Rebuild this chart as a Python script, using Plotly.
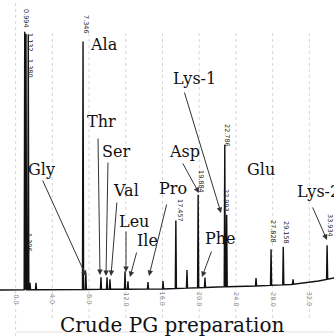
import numpy as np
import plotly.graph_objects as go

# ---- data ----
peak_times = [0.994, 1.132, 1.380, 1.57, 2.22, 7.346, 7.65, 9.30, 9.96, 10.28,
              11.92, 12.24, 14.42, 16.06, 17.457, 18.67, 19.884, 20.63,
              22.786, 22.993, 26.19, 27.828, 29.158, 30.22, 33.934]
peak_heights = [258, 256, 255, 7, 7, 248, 17, 12, 12, 10,
                18, 8, 7, 8, 68, 18, 93, 10,
                142, 72, 8, 36, 38, 5, 34]

baseline_t = [-1.7, 16.0, 22.0, 26.0, 30.0, 33.0, 34.7]
baseline_s = [0.0, 1.0, 3.0, 4.0, 5.5, 9.0, 12.0]

tick_times = [0, 4, 8, 12, 16, 20, 24, 28, 32]
tick_text = ["0.0", "4.0", "8.0", "12.0", "16.0", "20.0", "24.0", "28.0", "32.0"]

# retention-time labels: text, pixel centre (layout)
rt_labels = [("0.994", 26, 18), ("1.132", 30, 42), ("1.380", 30, 68),
             ("1.306", 29, 242), ("7.346", 86, 24), ("17.457", 180, 210),
             ("19.884", 201, 181), ("22.786", 227, 135), ("22.993", 226, 200),
             ("27.828", 273, 231), ("29.158", 286, 232), ("33.934", 330, 225)]

# amino-acid labels: name, text centre px, arrow tail px, arrow tip px (None = no arrow)
aa_labels = [
    ("Ala", 104, 44, None, None),
    ("Gly", 41, 169, (42, 179), (86, 276)),
    ("Thr", 101, 121, (98, 137), (100, 275)),
    ("Ser", 116, 151, (108, 161), (106, 276)),
    ("Val", 126, 190, (117, 201), (111, 276)),
    ("Leu", 134, 221, (126, 230), (126, 272)),
    ("Ile", 147, 240, (137, 251), (130, 277)),
    ("Pro", 173, 188, (167, 203), (149, 276)),
    ("Asp", 184, 151, (182, 162), (199, 193)),
    ("Lys-1", 194, 78, (184, 91), (221, 213)),
    ("Phe", 220, 238, (212, 250), (202, 277)),
    ("Glu", 261, 169, None, None),
]
lys2 = ("Lys-2", 295, 191, (312, 206), (327, 240))

# ---- pixel <-> data helpers (layout only) ----
X0, SCALE = 15.6, 9.18
Y0 = 290.0
W, H = 334, 336

def tx(px):
    return (px - X0) / SCALE

def sy(py):
    return Y0 - py

# ---- build trace from peaks ----
w = 0.06
order = np.argsort(peak_times)
xs, ys = [baseline_t[0]], [baseline_s[0]]
for i in order:
    t, h = peak_times[i], peak_heights[i]
    for tt, extra in ((t - w, 0), (t, h), (t + w, 0)):
        xs.append(tt)
        ys.append(float(np.interp(tt, baseline_t, baseline_s)) + extra)
pts = sorted(list(zip(xs, ys)) + [(bt, bs) for bt, bs in zip(baseline_t, baseline_s)
                                   if all(abs(bt - p) > 3 * w for p in peak_times)])
xs, ys = zip(*pts)

fig = go.Figure()
fig.add_trace(go.Scatter(x=xs, y=ys, mode="lines",
                         line=dict(color="#111111", width=1.4),
                         hoverinfo="skip", showlegend=False))

shapes = []
for t in tick_times:
    top = sy(0) if t == 0 else sy(30)
    bot = sy(336) if t == 0 else sy(318)
    shapes.append(dict(type="line", xref="x", yref="y", x0=t, x1=t, y0=bot, y1=top,
                       line=dict(color="#d6d6d6", width=1, dash="dot"), layer="below"))
shapes.append(dict(type="line", xref="x", yref="y", x0=tx(16), x1=tx(334),
                   y0=sy(332), y1=sy(332), line=dict(color="#e2e2e2", width=1)))

ann = []
for t, lab in zip(tick_times, tick_text):
    ann.append(dict(x=t, y=sy(299), xref="x", yref="y", text=lab, showarrow=False,
                    textangle=90, font=dict(family="DejaVu Sans", size=6.5, color="#888888")))
for lab, px, py in rt_labels:
    ann.append(dict(x=tx(px), y=sy(py), xref="x", yref="y", text=lab, showarrow=False,
                    textangle=90, font=dict(family="DejaVu Sans", size=6.5, color="#222222")))

serif = dict(family="DejaVu Serif", size=16, color="#111111")
for name, cx, cy, tail, tip in aa_labels + [lys2]:
    anchor = "left" if name == "Lys-2" else "center"
    ann.append(dict(x=tx(cx), y=sy(cy), xref="x", yref="y", text=name, showarrow=False,
                    xanchor=anchor, font=serif))
    if tip is not None:
        ann.append(dict(x=tx(tip[0]), y=sy(tip[1]), ax=tx(tail[0]), ay=sy(tail[1]),
                        xref="x", yref="y", axref="x", ayref="y", text="",
                        showarrow=True, arrowhead=2, arrowsize=1.1, arrowwidth=1,
                        arrowcolor="#333333"))

ann.append(dict(x=tx(172), y=sy(325), xref="x", yref="y", text="Crude PG preparation",
                showarrow=False, font=dict(family="DejaVu Serif", size=20, color="#111111")))

fig.update_layout(
    width=W, height=H, margin=dict(l=0, r=0, t=0, b=0),
    paper_bgcolor="white", plot_bgcolor="white",
    xaxis=dict(range=[tx(0), tx(W)], visible=False, fixedrange=True),
    yaxis=dict(range=[sy(H), sy(0)], visible=False, fixedrange=True),
    shapes=shapes, annotations=ann, showlegend=False,
)
fig.write_html("out.html")
